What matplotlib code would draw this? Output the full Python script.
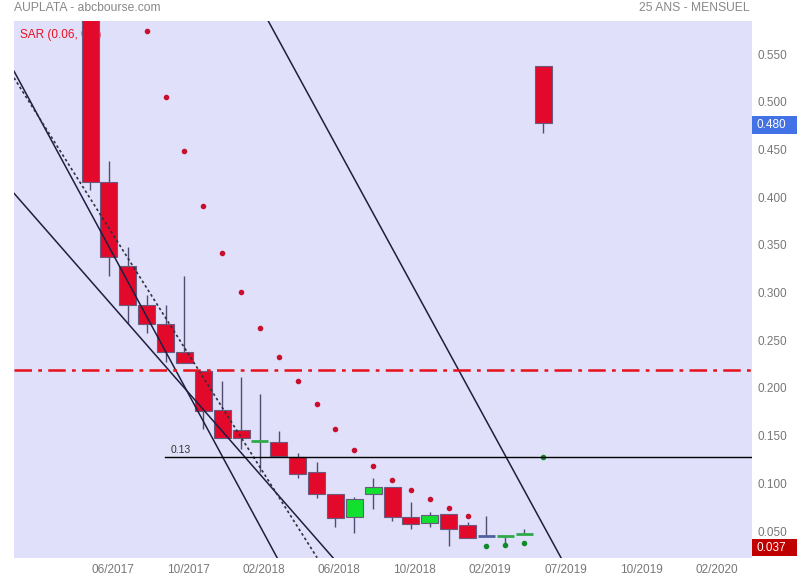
import matplotlib
matplotlib.use("Agg")
import matplotlib.pyplot as plt
from matplotlib.patches import Rectangle

plt.rcParams['font.family'] = ['Liberation Sans', 'DejaVu Sans']

# monthly candles, index 0 = first visible month
opens = [0.600, 0.416, 0.328, 0.287, 0.267, 0.238, 0.218, 0.177, 0.156, 0.144, 0.143, 0.128, 0.112,
         0.089, 0.065, 0.089, 0.096, 0.065, 0.058, 0.068, 0.056, 0.0445, 0.045, 0.047, 0.537]
highs = [0.600, 0.438, 0.348, 0.297, 0.287, 0.317, 0.218, 0.207, 0.211, 0.194, 0.155, 0.132, 0.122,
         0.089, 0.086, 0.106, 0.096, 0.080, 0.070, 0.068, 0.059, 0.066, 0.045, 0.052, 0.537]
lows = [0.407, 0.317, 0.268, 0.258, 0.227, 0.226, 0.157, 0.148, 0.136, 0.112, 0.129, 0.106, 0.085,
        0.054, 0.048, 0.073, 0.061, 0.052, 0.054, 0.034, 0.043, 0.0445, 0.037, 0.047, 0.467]
closes = [0.416, 0.337, 0.287, 0.267, 0.238, 0.226, 0.176, 0.148, 0.148, 0.144, 0.129, 0.110, 0.089,
          0.064, 0.084, 0.096, 0.065, 0.057, 0.067, 0.052, 0.043, 0.0445, 0.045, 0.047, 0.478]

# parabolic SAR (0.06, 0.2)
sar_red_idx = list(range(3, 21))
sar_red = [0.574, 0.505, 0.448, 0.391, 0.341, 0.301, 0.263, 0.232, 0.207, 0.183, 0.157, 0.135,
           0.118, 0.103, 0.093, 0.084, 0.074, 0.066]
sar_green_idx = [21, 22, 23, 24]
sar_green = [0.034, 0.035, 0.037, 0.128]

# hand drawn trend lines (month index, price)
trend_solid = [((-4.03, 0.532), (9.91, 0.022)),
               ((-4.03, 0.404), (12.87, 0.022)),
               ((9.43, 0.585), (24.95, 0.022))]
trend_dotted = ((-4.03, 0.525), (12.03, 0.022))
hline_level = 0.128
hline_start = 3.97
hline_label = '0.13'
red_level = 0.219

xtick_pos = [1.2, 5.2, 9.2, 13.2, 17.2, 21.2, 25.2, 29.2, 33.2]
xtick_labels = ['06/2017', '10/2017', '02/2018', '06/2018', '10/2018', '02/2019',
                '07/2019', '10/2019', '02/2020']
yticks = [0.05, 0.10, 0.15, 0.20, 0.25, 0.30, 0.35, 0.40, 0.45, 0.50, 0.55]

fig = plt.figure(figsize=(8, 5.8), dpi=100)
ax = fig.add_axes([14 / 800, 22 / 580, 738 / 800, 537 / 580])
ax.set_facecolor('#e0e0fa')
ax.set_xlim(-4.03, 35.07)
ax.set_ylim(0.0217, 0.5846)
for s in ax.spines.values():
    s.set_visible(False)

red = '#e3092b'
green = '#12e02e'
wick = '#4e4e70'
w = 0.9
for i in range(len(opens)):
    o, h, l, c = opens[i], highs[i], lows[i], closes[i]
    ax.vlines(i, l, h, color=wick, lw=1, zorder=3)
    if abs(o - c) < 1e-9:
        col = '#5060a0' if i == 21 else '#2eaa48'
        ax.hlines(o, i - w / 2, i + w / 2, color=col, lw=2, zorder=4)
        continue
    col = red if c < o else green
    ax.add_patch(Rectangle((i - w / 2, min(o, c)), w, abs(o - c), facecolor=col,
                           edgecolor='#6a5a80', lw=0.8, zorder=4))

ax.scatter(sar_red_idx, sar_red, s=9, color='#c8102e', zorder=5)
ax.scatter(sar_green_idx, sar_green, s=9, color='#128a2a', zorder=5)

for (x0, y0), (x1, y1) in trend_solid:
    ax.plot([x0, x1], [y0, y1], color='#1e1e40', lw=1.1, zorder=6)
(x0, y0), (x1, y1) = trend_dotted
ax.plot([x0, x1], [y0, y1], color='#303040', lw=1.2, ls=(0, (1.6, 1.6)), zorder=6)

ax.plot([hline_start, 35.07], [hline_level, hline_level], color='black', lw=1, zorder=6)
ax.text(hline_start + 0.3, hline_level + 0.002, hline_label, fontsize=7.5, color='#333333',
        va='bottom', ha='left', zorder=6)
ax.axhline(red_level, color='#e8101a', lw=1.8, ls=(0, (7, 2.5, 1.5, 2.5)), zorder=6)

ax.yaxis.tick_right()
ax.set_yticks(yticks)
ax.set_yticklabels(['%.3f' % v for v in yticks])
ax.set_xticks(xtick_pos)
ax.set_xticklabels(xtick_labels)
ax.tick_params(length=0, labelsize=8.5, labelcolor='#777777')
ax.tick_params(axis='y', pad=4)
ax.tick_params(axis='x', pad=4)

# price boxes on the right
tr = ax.get_yaxis_transform()
ax.add_patch(Rectangle((1.0, 0.4665), 0.061, 0.019, transform=tr, facecolor='#4272e6',
                       edgecolor='none', clip_on=False))
ax.text(1.006, 0.4755, '0.480', transform=tr, color='white', fontsize=8.5, va='center',
        ha='left')
ax.add_patch(Rectangle((1.0, 0.0237), 0.061, 0.018, transform=tr, facecolor='#c00000',
                       edgecolor='none', clip_on=False))
ax.text(1.006, 0.0327, '0.037', transform=tr, color='white', fontsize=8.5, va='center',
        ha='left')

ax.text(0.008, 0.985, 'SAR (0.06, 0.2)', transform=ax.transAxes, color='#e81020',
        fontsize=8.5, va='top', ha='left', zorder=1)
fig.text(14 / 800, 1 - 8 / 580, 'AUPLATA - abcbourse.com', color='#888888', fontsize=8.7,
         va='center', ha='left')
fig.text(750 / 800, 1 - 8 / 580, '25 ANS - MENSUEL', color='#888888', fontsize=8.7,
         va='center', ha='right')

fig.savefig('out.png', dpi=100)
